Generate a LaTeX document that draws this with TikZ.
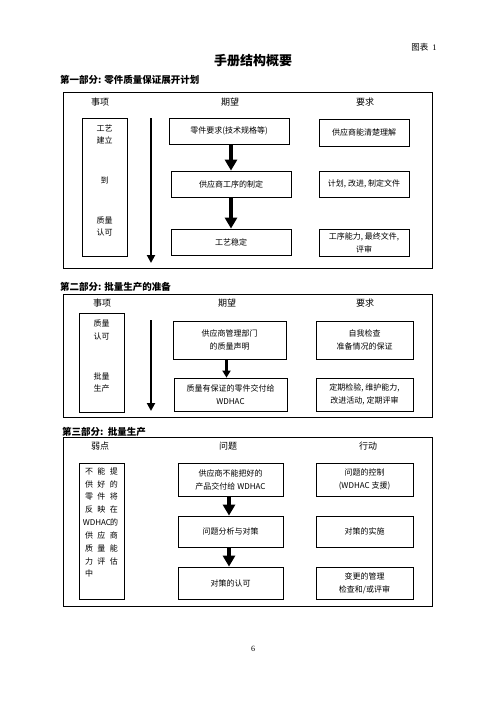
\documentclass[tikz,border=0pt]{standalone}
\usepackage{fontspec}
\setmainfont{Liberation Serif}
\newfontfamily\cjk{Noto Sans CJK SC}
\usetikzlibrary{arrows.meta}
\newcommand{\cc}[1]{\makebox[12.5pt]{#1}}
\tikzset{
  bx/.style={draw, line width=0.8pt, align=center, inner sep=0pt},
  outer/.style={draw, line width=1pt, inner sep=0pt},
  txt/.style={align=center, inner sep=0pt},
  hdr/.style={inner sep=0pt, font=\cjk\fontsize{9}{10}\selectfont},
  sec/.style={anchor=west, inner sep=0pt, font=\cjk\bfseries\fontsize{9.5}{10}\selectfont},
  longarrow/.style={line width=2.5pt, -{Triangle[width=8pt,length=8pt]}},
  bigarrow/.style={line width=4pt, -{Triangle[width=12pt,length=11pt]}},
  midarrow/.style={line width=2.5pt, -{Triangle[width=8pt,length=7pt]}}
}
\begin{document}
\begin{tikzpicture}[x=1pt,y=-1pt, font=\cjk\fontsize{8}{13}\selectfont]
\useasboundingbox (0,0) rectangle (496,702);
\fill[white] (0,0) rectangle (496,702);

% header
\node[inner sep=0pt, font=\cjk\fontsize{8.5}{10}\selectfont] (fig) at (424,47) {图表\ \ {\rmfamily 1}};
\node[inner sep=0pt, font=\cjk\bfseries\fontsize{13}{14}\selectfont] (title) at (253,61) {手册结构概要};

% ===== Part 1 =====
\node[sec] (s1) at (60,80) {第一部分: 零件质量保证展开计划};
\node[outer, minimum width=369pt, minimum height=176pt] (box1) at (247.5,180) {};
\node[hdr] (h1a) at (100,102) {事项};
\node[hdr] (h1b) at (230,102) {期望};
\node[hdr] (h1c) at (365,102) {要求};
\node[bx, minimum width=45pt, minimum height=138pt] (L1) at (104.5,187) {};
\node[txt, font=\cjk\fontsize{8}{12}\selectfont] (L1a) at (104.5,134) {工艺\\建立};
\node[txt] (L1b) at (104.5,180) {到};
\node[txt, font=\cjk\fontsize{8}{12}\selectfont] (L1c) at (104.5,226) {质量\\认可};
\coordinate (a1s) at (151,118);
\coordinate (a1e) at (151,263);
\draw[longarrow] (a1s) -- (a1e);
\node[bx, minimum width=120pt, minimum height=26pt] (A1) at (229,131) {零件要求(技术规格等)};
\node[bx, minimum width=120pt, minimum height=26pt] (B1) at (231,184) {供应商工序的制定};
\node[bx, minimum width=120pt, minimum height=26pt] (C1) at (231,242) {工艺稳定};
\node[bx, minimum width=90pt, minimum height=27pt] (D1) at (364,132.5) {供应商能清楚理解};
\node[bx, minimum width=90pt, minimum height=26pt] (E1) at (364,184) {计划, 改进, 制定文件};
\node[bx, minimum width=90pt, minimum height=27pt] (F1) at (364,242.5) {工序能力, 最终文件,\\评审};
\draw[bigarrow] (A1.south -| B1.north) -- (B1.north);
\draw[bigarrow] (B1.south) -- (C1.north);

% ===== Part 2 =====
\node[sec] (s2) at (60,287) {第二部分: 批量生产的准备};
\node[outer, minimum width=369pt, minimum height=123pt] (box2) at (247.5,355.5) {};
\node[hdr] (h2a) at (102,303) {事项};
\node[hdr] (h2b) at (227,303) {期望};
\node[hdr] (h2c) at (365,303) {要求};
\node[bx, minimum width=45pt, minimum height=99pt] (L2) at (101.5,362.5) {};
\node[txt] (L2a) at (101.5,329.5) {质量\\认可};
\node[txt, font=\cjk\fontsize{8}{12}\selectfont] (L2b) at (101.5,382) {批量\\生产};
\coordinate (a2s) at (151,320);
\coordinate (a2e) at (151,411);
\draw[longarrow] (a2s) -- (a2e);
\node[bx, minimum width=113pt, minimum height=38pt] (A2) at (229.5,340) {供应商管理部门\\的质量声明};
\node[bx, minimum width=113pt, minimum height=33pt] (B2) at (230.5,394.5) {质量有保证的零件交付给\\WDHAC};
\node[bx, minimum width=97pt, minimum height=38pt] (C2) at (364.5,340) {自我检查\\准备情况的保证};
\node[bx, minimum width=97pt, minimum height=33pt] (D2) at (364.5,394.5) {定期检验, 维护能力,\\改进活动, 定期评审};
\coordinate (m2) at (226.5,0);
\draw[midarrow] (A2.south -| m2) -- (B2.north -| m2);

% ===== Part 3 =====
\node[sec] (s3) at (62,432) {第三部分:\ \ 批量生产};
\node[outer, minimum width=369pt, minimum height=169pt] (box3) at (247.5,521.5) {};
\node[hdr] (h3a) at (100,446) {弱点};
\node[hdr] (h3b) at (228,446) {问题};
\node[hdr] (h3c) at (368,446) {行动};
\node[bx, minimum width=45pt, minimum height=136pt] (L3) at (101.5,531) {};
\node[txt, align=left, font=\cjk\fontsize{8}{12.85}\selectfont] (L3t) at (101.5,522.5)
 {\cc{不}\cc{能}\cc{提}\\\cc{供}\cc{好}\cc{的}\\\cc{零}\cc{件}\cc{将}\\\cc{反}\cc{映}\cc{在}\\\makebox[25pt][l]{WDHAC}\cc{的}\\\cc{供}\cc{应}\cc{商}\\\cc{质}\cc{量}\cc{能}\\\cc{力}\cc{评}\cc{估}\\\cc{中}\makebox[25pt]{}};
\node[bx, minimum width=105pt, minimum height=33pt] (A3) at (230.5,479.5) {供应商不能把好的\\产品交付给 WDHAC};
\node[bx, minimum width=105pt, minimum height=31pt] (B3) at (230.5,531.5) {问题分析与对策};
\node[bx, minimum width=105pt, minimum height=32pt] (C3) at (230.5,583) {对策的认可};
\node[bx, minimum width=97pt, minimum height=33pt] (D3) at (364.5,479.5) {问题的控制\\(WDHAC 支援)};
\node[bx, minimum width=97pt, minimum height=31pt] (E3) at (364.5,531.5) {对策的实施};
\node[bx, minimum width=97pt, minimum height=32pt] (F3) at (364.5,583) {变更的管理\\检查和/或评审};
\coordinate (m3) at (229,0);
\draw[bigarrow] (A3.south -| m3) -- (B3.north -| m3);
\draw[bigarrow] (B3.south -| m3) -- (C3.north -| m3);

% page number
\node[inner sep=0pt, font=\rmfamily\fontsize{8}{10}\selectfont] (pg) at (253,649) {6};
\end{tikzpicture}
\end{document}
